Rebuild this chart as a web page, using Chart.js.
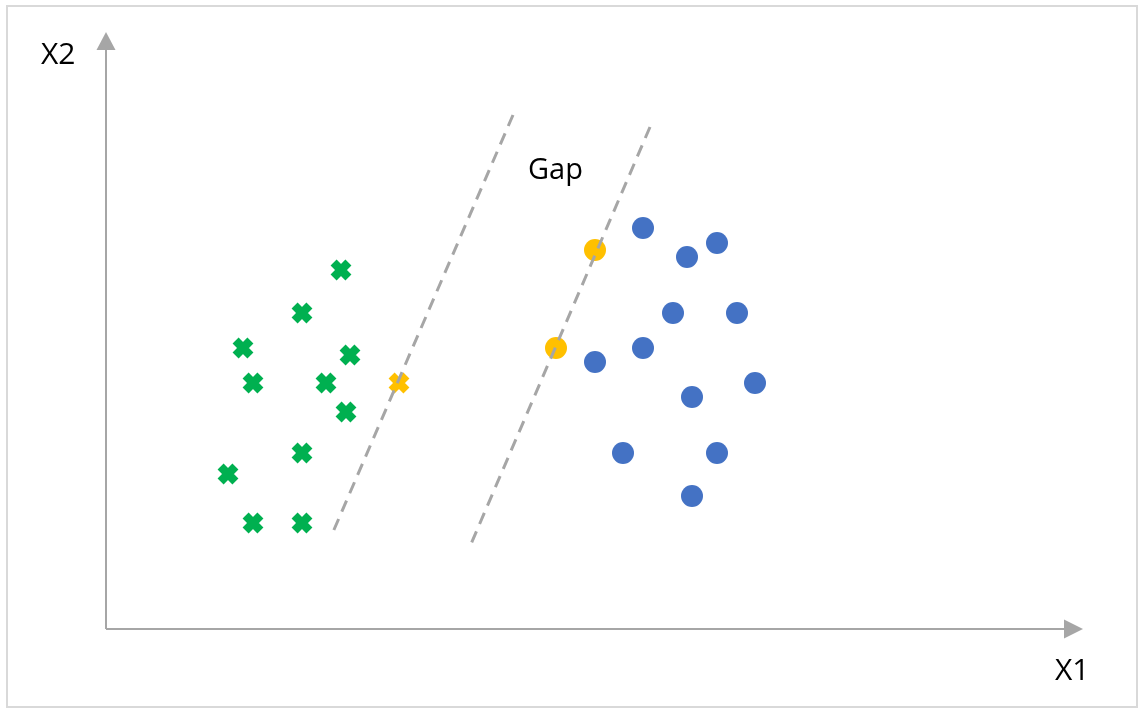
<!DOCTYPE html>
<html lang="en">
<head>
    <meta charset="UTF-8">
    <title>Gap</title>
    <script src="https://cdn.jsdelivr.net/npm/chart.js"></script>
    <style>
        html, body { margin: 0; padding: 0; background: #fff; }
        #wrap { width: 1140px; height: 709px; }
    </style>
</head>
<body>
    <div id="wrap"><canvas id="svmChart"></canvas></div>

    <script>
        // units: 1 = 10px of the original picture, origin at the axes corner
        const xMax = 97.7;
        const yMax = 59.7;

        const greenX = [23.5, 19.6, 13.7, 24.4, 14.7, 22.0, 24.0, 19.6, 12.2, 14.7, 19.6];
        const greenY = [35.9, 31.6, 28.1, 27.4, 24.6, 24.6, 21.7, 17.6, 15.5, 10.6, 10.6];

        const blueX = [53.7, 58.1, 61.1, 56.7, 63.1, 53.7, 48.9, 64.9, 58.6, 51.7, 61.1, 58.6];
        const blueY = [40.1, 37.2, 38.6, 31.6, 31.6, 28.1, 26.7, 24.6, 23.2, 17.6, 17.6, 13.3];

        // support vectors
        const orangeCrossX = [29.3];
        const orangeCrossY = [24.6];
        const orangeDotX = [48.9, 45.0];
        const orangeDotY = [37.9, 28.1];

        // margin lines (dashed)
        const line1X = [40.7, 22.7];
        const line1Y = [51.4, 9.7];
        const line2X = [54.4, 36.5];
        const line2Y = [50.2, 8.5];

        const pts = (xs, ys) => xs.map((x, i) => ({ x: x, y: ys[i] }));

        const green = "#00B050";
        const blue = "#4472C4";
        const orange = "#FFC000";
        const gray = "#A6A6A6";

        const decorations = {
            id: "decorations",
            beforeDatasetsDraw(chart) {
                const ctx = chart.ctx;
                const sx = chart.scales.x, sy = chart.scales.y;
                const x0 = sx.getPixelForValue(0), y0 = sy.getPixelForValue(0);
                const x1 = sx.getPixelForValue(xMax), y1 = sy.getPixelForValue(yMax);
                ctx.save();
                // outer frame
                ctx.strokeStyle = "#D9D9D9";
                ctx.lineWidth = 2;
                ctx.strokeRect(7, 6, 1130, 701);
                // axes
                ctx.strokeStyle = gray;
                ctx.fillStyle = gray;
                ctx.lineWidth = 2;
                ctx.beginPath();
                ctx.moveTo(x0, y0);
                ctx.lineTo(x0, y1 + 16);
                ctx.moveTo(x0, y0);
                ctx.lineTo(x1 - 16, y0);
                ctx.stroke();
                ctx.beginPath();
                ctx.moveTo(x0, y1);
                ctx.lineTo(x0 - 9.5, y1 + 18);
                ctx.lineTo(x0 + 9.5, y1 + 18);
                ctx.closePath();
                ctx.fill();
                ctx.beginPath();
                ctx.moveTo(x1, y0);
                ctx.lineTo(x1 - 19, y0 - 9.5);
                ctx.lineTo(x1 - 19, y0 + 9.5);
                ctx.closePath();
                ctx.fill();
                // labels
                ctx.fillStyle = "#000";
                ctx.font = "30px 'Open Sans'";
                ctx.textBaseline = "middle";
                ctx.textAlign = "left";
                ctx.fillText("X2", 41, 55);
                ctx.fillText("X1", 1055, 671);
                ctx.font = "29px 'Open Sans'";
                ctx.fillText("Gap", sx.getPixelForValue(42.2), sy.getPixelForValue(45.8));
                ctx.restore();
            }
        };

        const ctx = document.getElementById("svmChart").getContext("2d");
        new Chart(ctx, {
            type: "scatter",
            data: {
                datasets: [
                    {
                        label: "margin 1",
                        data: pts(line1X, line1Y),
                        showLine: true,
                        borderColor: gray,
                        borderWidth: 3,
                        borderDash: [12, 8],
                        pointRadius: 0
                    },
                    {
                        label: "margin 2",
                        data: pts(line2X, line2Y),
                        showLine: true,
                        borderColor: gray,
                        borderWidth: 3,
                        borderDash: [12, 8],
                        pointRadius: 0
                    },
                    {
                        label: "class A",
                        data: pts(greenX, greenY),
                        pointStyle: "crossRot",
                        pointRadius: 10.5,
                        borderColor: green,
                        borderWidth: 8.5
                    },
                    {
                        label: "class A support",
                        data: pts(orangeCrossX, orangeCrossY),
                        pointStyle: "crossRot",
                        pointRadius: 10.5,
                        borderColor: orange,
                        borderWidth: 8.5
                    },
                    {
                        label: "class B",
                        data: pts(blueX, blueY),
                        pointStyle: "circle",
                        pointRadius: 11,
                        backgroundColor: blue,
                        borderWidth: 0
                    },
                    {
                        label: "class B support",
                        data: pts(orangeDotX, orangeDotY),
                        pointStyle: "circle",
                        pointRadius: 11,
                        backgroundColor: orange,
                        borderWidth: 0
                    }
                ]
            },
            options: {
                responsive: true,
                maintainAspectRatio: false,
                animation: false,
                layout: { padding: { left: 106, top: 32, right: 57, bottom: 80 } },
                plugins: {
                    legend: { display: false },
                    tooltip: { enabled: false }
                },
                scales: {
                    x: { type: "linear", min: 0, max: xMax, display: false },
                    y: { type: "linear", min: 0, max: yMax, display: false }
                }
            },
            plugins: [decorations]
        });
    </script>
</body>
</html>
